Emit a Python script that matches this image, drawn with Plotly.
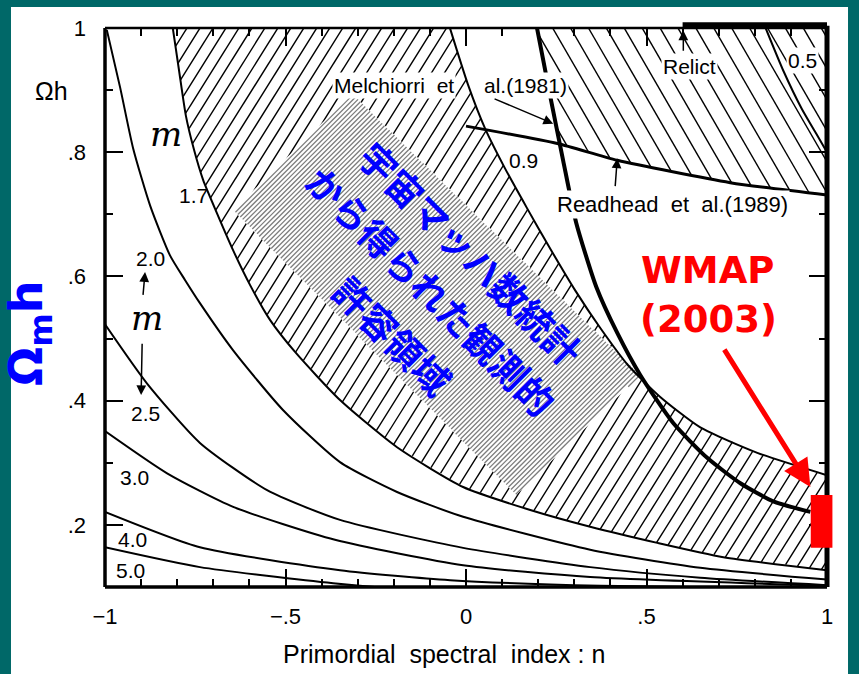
import numpy as np
import plotly.graph_objects as go

# ---------------- data (n, Omega*h) ----------------
m17_n = [-0.812, -0.795, -0.776, -0.753, -0.728, -0.690, -0.645, -0.598, -0.543, -0.473,
         -0.349, -0.191, -0.008, 0.178, 0.344, 0.530, 0.713, 1.0]
m17_om = [0.999, 0.932, 0.859, 0.803, 0.755, 0.702, 0.642, 0.586, 0.530, 0.478,
          0.401, 0.325, 0.261, 0.224, 0.197, 0.171, 0.148, 0.127]

m20_n = [-0.995, -0.958, -0.922, -0.875, -0.820, -0.778, -0.737, -0.645, -0.507, -0.349,
         -0.191, -0.008, 0.344, 0.649, 1.0]
m20_om = [0.997, 0.904, 0.806, 0.714, 0.634, 0.594, 0.557, 0.481, 0.385, 0.301,
          0.253, 0.213, 0.160, 0.131, 0.112]

m25_n = [-1.0, -0.884, -0.737, -0.551, -0.349, -0.008, 0.344, 0.649, 1.0]
m25_om = [0.523, 0.428, 0.332, 0.256, 0.208, 0.163, 0.132, 0.115, 0.103]

m30_n = [-1.0, -0.828, -0.645, -0.363, -0.008, 0.344, 1.0]
m30_om = [0.351, 0.283, 0.229, 0.176, 0.135, 0.116, 0.102]

m40_n = [-1.0, -0.737, -0.349, -0.044, 0.372, 1.0]
m40_om = [0.221, 0.164, 0.127, 0.111, 0.102, 0.097]

m50_n = [-1.0, -0.737, -0.368, -0.127, 0.2]
m50_om = [0.164, 0.132, 0.106, 0.095, 0.090]

m09_n = [-0.044, 0.006, 0.053, 0.108, 0.169, 0.233, 0.302, 0.372, 0.449, 0.538, 0.649, 0.807, 1.0]
m09_om = [0.999, 0.908, 0.838, 0.774, 0.710, 0.645, 0.578, 0.517, 0.457, 0.406, 0.357, 0.316, 0.280]

m05_n = [0.83, 0.88, 0.93, 0.97, 1.0]
m05_om = [1.0, 0.93, 0.87, 0.83, 0.80]

melch_n = [0.197, 0.233, 0.269, 0.305, 0.361, 0.419, 0.483, 0.574, 0.668, 0.760, 0.851, 0.954]
melch_om = [0.999, 0.891, 0.787, 0.687, 0.583, 0.509, 0.441, 0.364, 0.308, 0.267, 0.238, 0.221]

readhead_n = [0.0, 0.253, 0.419, 0.732, 1.0]
readhead_om = [0.842, 0.814, 0.787, 0.751, 0.731]

relict_n = [0.6, 1.0]

wmap_n = [0.955, 1.015]
wmap_om = [0.163, 0.248]

# allowed region from cosmic Mach number statistics (rotated box)
diamond_n = [-0.3155, 0.4826, 0.139, -0.6453]
diamond_om = [0.8946, 0.441, 0.248, 0.7065]

x_major = [-1, -0.5, 0, 0.5, 1]
x_major_text = ["\u22121", "\u2212.5", "0", ".5", "1"]
x_minor = [-0.9, -0.8, -0.7, -0.6, -0.4, -0.3, -0.2, -0.1, 0.1, 0.2, 0.3, 0.4, 0.6, 0.7, 0.8, 0.9]
y_major = [0.2, 0.4, 0.6, 0.8, 1.0]
y_major_text = [".2", ".4", ".6", ".8", "1"]
y_minor = [0.3, 0.5, 0.7, 0.9]

# curve labels: (text, n, Omega h)
mach_symbol_pos = [(-0.831, 0.829), (-0.884, 0.533)]
curve_labels = [
    ("1.7", -0.756, 0.731), ("2.0", -0.875, 0.629),
    ("2.5", -0.889, 0.380), ("3.0", -0.917, 0.277),
    ("4.0", -0.925, 0.176), ("5.0", -0.928, 0.127), ("0.9", 0.158, 0.787),
]
boxed_labels = [
    ("0.5", 0.932, 0.948), ("Relict", 0.618, 0.938),
    ("Melchiorri\u00a0\u00a0et", -0.2005, 0.9075), ("al.(1981)", 0.164, 0.9075),
    ("Readhead\u00a0\u00a0et\u00a0\u00a0al.(1989)", 0.571, 0.716),
]
# arrows: (tail n, tail om, head n, head om)
black_arrows = [
    (-0.895, 0.568, -0.889, 0.607),
    (-0.897, 0.494, -0.900, 0.409),
    (0.075, 0.887, 0.2415, 0.846),
    (0.413, 0.743, 0.419, 0.790),
    (0.602, 0.961, 0.602, 0.996),
]
wmap_arrow = (0.713, 0.4845, 0.954, 0.261)

jp_lines = ["宇宙マッハ数統計", "から得られた観測的", "許容領域"]
jp_n = [0.0143, -0.0966, -0.2019]
jp_om = [0.6373, 0.5778, 0.5054]

# ---------------- helpers ----------------
SX, SY = 360.85, 621.7  # screen px per data unit, used for isotropic hatching
XR = [-1.0, 1.0]
YR = [0.1, 1.0]


def hatch(inside, angle_deg, spacing, phase=0.0):
    th = np.radians(angle_deg)
    d = np.array([np.cos(th), np.sin(th)])
    q = np.array([-np.sin(th), np.cos(th)])
    corners = np.array([[XR[0] * SX, YR[0] * SY], [XR[1] * SX, YR[0] * SY],
                        [XR[0] * SX, YR[1] * SY], [XR[1] * SX, YR[1] * SY]])
    cs = corners @ q
    ts = corners @ d
    t = np.arange(ts.min() - 2, ts.max() + 2, 0.5)
    xs, ys = [], []
    for c in np.arange(cs.min() + phase, cs.max(), spacing):
        X = c * q[0] + t * d[0]
        Y = c * q[1] + t * d[1]
        n = X / SX
        om = Y / SY
        m = inside(n, om) & (n >= XR[0]) & (n <= XR[1]) & (om >= YR[0]) & (om <= YR[1])
        if not m.any():
            continue
        dm = np.diff(m.astype(int))
        starts = list(np.where(dm == 1)[0] + 1)
        ends = list(np.where(dm == -1)[0])
        if m[0]:
            starts = [0] + starts
        if m[-1]:
            ends = ends + [len(m) - 1]
        for s, e in zip(starts, ends):
            xs += [n[s], n[e], None]
            ys += [om[s], om[e], None]
    return xs, ys


def in_band(n, om):
    lo = np.interp(n, m17_n, m17_om, left=np.inf, right=np.inf)
    hi = np.interp(n, m09_n, m09_om, left=np.inf, right=-np.inf)
    return (om > lo) & (om < hi)


def in_ne(n, om):
    r = np.interp(n, readhead_n, readhead_om, left=np.inf, right=np.inf)
    mm = np.interp(n, melch_n, melch_om, left=np.inf, right=-np.inf)
    return (om > r) & (om > mm)


def in_diamond(n, om):
    X = n * SX
    Y = om * SY
    PX = np.array(diamond_n) * SX
    PY = np.array(diamond_om) * SY
    crs = []
    k = len(PX)
    for i in range(k):
        x1, y1, x2, y2 = PX[i], PY[i], PX[(i + 1) % k], PY[(i + 1) % k]
        crs.append((x2 - x1) * (Y - y1) - (y2 - y1) * (X - x1))
    S = np.array(crs)
    return np.all(S >= 0, axis=0) | np.all(S <= 0, axis=0)


def pxn(n):
    return (n - XR[0]) / (XR[1] - XR[0])


def pyo(om):
    return (om - YR[0]) / (YR[1] - YR[0])


fig = go.Figure()

# hatching
hx, hy = hatch(in_band, 58, 11.0, 3.0)
fig.add_trace(go.Scatter(x=hx, y=hy, mode="lines", line=dict(color="black", width=1.4),
                         hoverinfo="skip", showlegend=False))
hx, hy = hatch(in_ne, 120, 15.5, 5.0)
fig.add_trace(go.Scatter(x=hx, y=hy, mode="lines", line=dict(color="black", width=1.4),
                         hoverinfo="skip", showlegend=False))

# gray diamond
fig.add_trace(go.Scatter(x=diamond_n + [diamond_n[0]], y=diamond_om + [diamond_om[0]],
                         mode="lines", fill="toself", fillcolor="white",
                         line=dict(width=0, color="white"), hoverinfo="skip", showlegend=False))
hx, hy = hatch(in_diamond, 45, 3.4, 0.0)
fig.add_trace(go.Scatter(x=hx, y=hy, mode="lines", line=dict(color="#7d7d7d", width=1.3),
                         hoverinfo="skip", showlegend=False))

# contours
for cn, co in [(m17_n, m17_om), (m20_n, m20_om), (m25_n, m25_om), (m30_n, m30_om),
               (m40_n, m40_om), (m50_n, m50_om), (m09_n, m09_om), (m05_n, m05_om)]:
    fig.add_trace(go.Scatter(x=cn, y=co, mode="lines",
                             line=dict(color="black", width=2, shape="spline", smoothing=0.6),
                             hoverinfo="skip", showlegend=False))
fig.add_trace(go.Scatter(x=melch_n, y=melch_om, mode="lines",
                         line=dict(color="black", width=4, shape="spline", smoothing=0.6),
                         hoverinfo="skip", showlegend=False))
fig.add_trace(go.Scatter(x=readhead_n, y=readhead_om, mode="lines",
                         line=dict(color="black", width=3, shape="spline", smoothing=0.6),
                         hoverinfo="skip", showlegend=False))

LF = "Liberation Sans, Arial, sans-serif"
ann = []
for n, o in mach_symbol_pos:
    ann.append(dict(text="<i>m</i>", x=n, y=o, xref="x", yref="y", showarrow=False,
                    font=dict(family="DejaVu Serif, serif", size=34, color="black")))
for t, n, o in curve_labels:
    ann.append(dict(text=t, x=n, y=o, xref="x", yref="y", showarrow=False,
                    font=dict(family=LF, size=21, color="black")))
for t, n, o in boxed_labels:
    ann.append(dict(text=t, x=n, y=o, xref="x", yref="y", showarrow=False,
                    bgcolor="white", borderpad=1,
                    font=dict(family=LF, size=22 if "Readhead" in t else 21, color="black")))
for tn, to, hn, ho in black_arrows:
    ann.append(dict(text="", x=hn, y=ho, ax=tn, ay=to, xref="x", yref="y",
                    axref="x", ayref="y", showarrow=True, arrowhead=2, arrowsize=1.3,
                    arrowwidth=1.5, arrowcolor="black"))
tn, to, hn, ho = wmap_arrow
ann.append(dict(text="", x=hn, y=ho, ax=tn, ay=to, xref="x", yref="y",
                axref="x", ayref="y", showarrow=True, arrowhead=2, arrowsize=1.1,
                arrowwidth=5, arrowcolor="#ff0000"))
ann.append(dict(text="WMAP", x=0.668, y=0.610, xref="x", yref="y", showarrow=False,
                font=dict(family="DejaVu Sans", size=37, color="#ff0000", weight="bold")))
ann.append(dict(text="(2003)", x=0.671, y=0.531, xref="x", yref="y", showarrow=False,
                font=dict(family="DejaVu Sans", size=37, color="#ff0000", weight="bold")))
for t, n, o in zip(jp_lines, jp_n, jp_om):
    ann.append(dict(text=t, x=n, y=o, xref="x", yref="y", showarrow=False, textangle=45,
                    font=dict(family="Noto Sans CJK JP", size=37, color="#0000ff", weight="bold")))
# texts outside the plotting area (paper coordinates)
ann.append(dict(text="\u03a9h", x=pxn(-1.147), y=pyo(0.899), xref="paper", yref="paper",
                xanchor="center", yanchor="middle", showarrow=False,
                font=dict(family=LF, size=25, color="black")))
ann.append(dict(text="\u03a9<sub>m</sub>h", x=pxn(-1.208), y=pyo(0.509), xref="paper",
                yref="paper", xanchor="center", yanchor="middle", showarrow=False, textangle=-90,
                font=dict(family="DejaVu Sans", size=46, color="#0000ff", weight="bold")))
ann.append(dict(text="Primordial\u00a0\u00a0spectral\u00a0\u00a0index\u00a0:\u00a0n",
                x=pxn(-0.0606), y=pyo(-0.0077), xref="paper", yref="paper",
                xanchor="center", yanchor="middle", showarrow=False,
                font=dict(family=LF, size=25, color="black")))

shapes = [
    # white picture area on teal slide background
    dict(type="rect", xref="paper", yref="paper", x0=-0.1302, x1=1.0291, y0=-0.3, y1=1.0376,
         fillcolor="white", line=dict(width=0), layer="below"),
    # frame
    dict(type="line", xref="paper", yref="paper", x0=0, x1=0, y0=0, y1=1,
         line=dict(color="black", width=3.5)),
    dict(type="line", xref="paper", yref="paper", x0=0, x1=1, y0=0, y1=0,
         line=dict(color="black", width=3.5)),
    dict(type="line", xref="paper", yref="paper", x0=1, x1=1, y0=0, y1=1.004,
         line=dict(color="black", width=5)),
    dict(type="line", xref="paper", yref="paper", x0=0, x1=1, y0=1, y1=1,
         line=dict(color="black", width=2.5)),
    dict(type="line", xref="paper", yref="paper", x0=pxn(relict_n[0]), x1=pxn(relict_n[1]),
         y0=1.005, y1=1.005, line=dict(color="black", width=6)),
    # WMAP constraint box
    dict(type="rect", xref="paper", yref="paper", x0=pxn(wmap_n[0]), x1=pxn(wmap_n[1]),
         y0=pyo(wmap_om[0]), y1=pyo(wmap_om[1]), fillcolor="#ff0000", line=dict(width=0)),
]

tickfont = dict(family=LF, size=22, color="black")
fig.update_layout(
    width=859, height=674,
    margin=dict(l=105, r=32, t=28, b=87),
    paper_bgcolor="#006868", plot_bgcolor="white",
    showlegend=False, hovermode=False,
    annotations=ann, shapes=shapes,
    xaxis=dict(range=XR, tickmode="array", tickvals=x_major, ticktext=x_major_text,
               ticks="inside", ticklen=18, tickwidth=2, tickcolor="black",
               minor=dict(tickmode="array", tickvals=x_minor, ticks="inside", ticklen=8,
                          tickwidth=2, tickcolor="black"),
               mirror="ticks", showline=False, showgrid=False, zeroline=False,
               tickfont=tickfont, ticklabelstandoff=14),
    yaxis=dict(range=YR, tickmode="array", tickvals=y_major, ticktext=y_major_text,
               ticks="inside", ticklen=18, tickwidth=2, tickcolor="black",
               minor=dict(tickmode="array", tickvals=y_minor, ticks="inside", ticklen=8,
                          tickwidth=2, tickcolor="black"),
               mirror="ticks", showline=False, showgrid=False, zeroline=False,
               tickfont=tickfont, ticklabelstandoff=18),
)

fig.write_html(
    "out.html",
    config={"displayModeBar": False},
    post_script="document.body.style.margin='0';document.body.style.padding='0';"
                "document.body.style.overflow='hidden';"
                "document.documentElement.style.overflow='hidden';",
)
